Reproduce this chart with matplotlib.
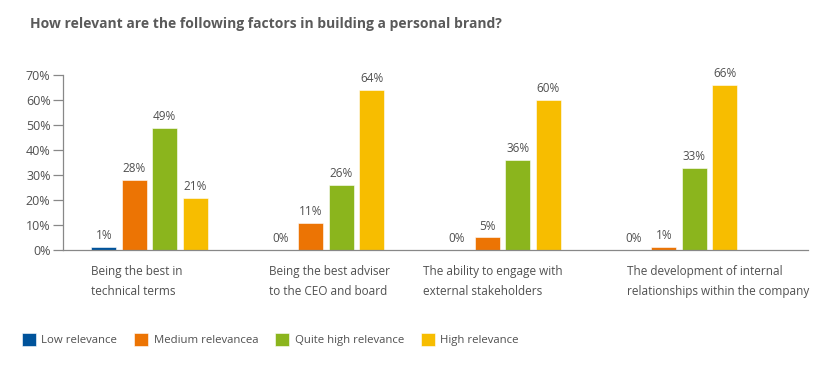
import matplotlib.pyplot as plt
import numpy as np

plt.rcParams["font.family"] = ["Open Sans", "DejaVu Sans"]

categories = [
    "Being the best in\ntechnical terms",
    "Being the best adviser\nto the CEO and board",
    "The ability to engage with\nexternal stakeholders",
    "The development of internal\nrelationships within the company",
]
series_names = ["Low relevance", "Medium relevancea", "Quite high relevance", "High relevance"]
low = [1, 0, 0, 0]
medium = [28, 11, 5, 1]
quite_high = [49, 26, 36, 33]
high = [21, 64, 60, 66]
series_values = [low, medium, quite_high, high]
colors = ["#00539b", "#ec7404", "#8bb51d", "#f7bd00"]
y_ticks = [0, 10, 20, 30, 40, 50, 60, 70]

text_color = "#505050"
fig = plt.figure(figsize=(8.38, 3.72), dpi=100)
ax = fig.add_axes([0.0752, 0.328, 0.889, 0.470])

groups = np.arange(len(categories))
width = 0.1415
step = 0.1726
offsets = (np.arange(4) - 1.5) * step

for i, (name, vals, col) in enumerate(zip(series_names, series_values, colors)):
    bars = ax.bar(groups + offsets[i], vals, width, color=col, label=name,
                  edgecolor="white", linewidth=0.4)
    for b, v in zip(bars, vals):
        ax.text(b.get_x() + b.get_width() / 2, v + 2.0, f"{v}%",
                ha="center", va="bottom", fontsize=8.5, color=text_color)

# category labels, left aligned under each group
label_shift = [0.0, 0.005, -0.12, 0.035]
for g, cat, sh in zip(groups, categories, label_shift):
    ax.text(g + offsets[0] - width / 2 + sh, -6, cat, ha="left", va="top",
            fontsize=8.5, color=text_color, linespacing=1.75)

ax.set_xlim(-0.49, 3.73)
ax.set_ylim(0, 70)
ax.set_yticks(y_ticks)
ax.set_yticklabels([f"{t}%" for t in y_ticks], fontsize=9, color=text_color)
ax.set_xticks([])
for s in ["top", "right"]:
    ax.spines[s].set_visible(False)
ax.spines["left"].set_color("#888888")
ax.spines["bottom"].set_color("#888888")
ax.spines["left"].set_linewidth(0.9)
ax.spines["bottom"].set_linewidth(0.9)
ax.tick_params(axis="y", length=7, width=0.9, color="#888888", pad=2)

fig.text(0.036, 0.935, "How relevant are the following factors in building a personal brand?",
         fontsize=10, fontweight="bold", color="#5a5a5a", ha="left", va="center")

handles, labels = ax.get_legend_handles_labels()
fig.legend(handles, labels, loc="center left", bbox_to_anchor=(0.014, 0.088), ncol=4,
           frameon=False, fontsize=8.2, handlelength=1.2, handleheight=1.4,
           handletextpad=0.5, columnspacing=1.5, labelcolor=text_color)

fig.savefig("out.png", dpi=100)
